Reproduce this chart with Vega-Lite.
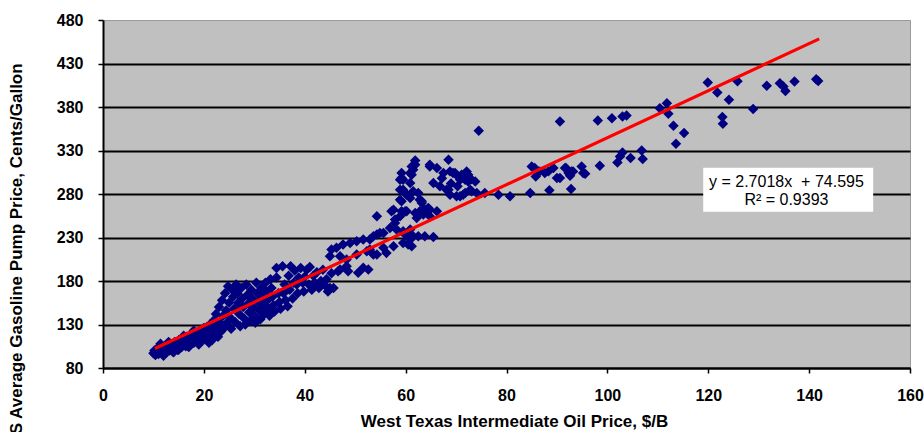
{
  "$schema": "https://vega.github.io/schema/vega-lite/v6.json",
  "width": 807,
  "height": 348,
  "autosize": {"type": "none"},
  "padding": {"left": 103, "top": 20, "right": 14, "bottom": 64},
  "background": "white",
  "config": {
    "font": "Liberation Sans",
    "view": {"fill": "#C0C0C0", "stroke": "#9a9a9a", "strokeWidth": 1},
    "axis": {
      "domainColor": "black",
      "domainWidth": 2,
      "tickColor": "black",
      "tickWidth": 1.5,
      "tickSize": 5,
      "labelFont": "Liberation Sans",
      "labelFontSize": 16,
      "labelFontWeight": "bold",
      "labelColor": "black",
      "labelOverlap": false,
      "labelFlush": false,
      "titleFont": "Liberation Sans",
      "titleFontSize": 17,
      "titleFontWeight": "bold",
      "titleColor": "black"
    },
    "axisX": {"grid": false, "labelPadding": 14, "titleX": 411, "titleY": 58, "titleBaseline": "alphabetic", "titleAlign": "center"},
    "axisY": {
      "grid": true,
      "gridColor": "black",
      "gridWidth": 1.8,
      "gridOpacity": {"condition": {"test": "datum.value >= 480", "value": 0}, "value": 1},
      "labelPadding": 15,
      "titleX": -82,
      "titleY": 234.5,
      "titleBaseline": "alphabetic",
      "titleAlign": "center"
    }
  },
  "datasets": {
    "prices": [
      {"wti": 10.0, "pump": 97}, {"wti": 10.2, "pump": 100}, {"wti": 10.4, "pump": 95}, {"wti": 10.6, "pump": 98},
      {"wti": 10.8, "pump": 102}, {"wti": 11.0, "pump": 96}, {"wti": 11.2, "pump": 99}, {"wti": 11.4, "pump": 104},
      {"wti": 11.4, "pump": 108}, {"wti": 11.6, "pump": 101}, {"wti": 11.8, "pump": 97}, {"wti": 12.0, "pump": 103},
      {"wti": 12.2, "pump": 100}, {"wti": 12.4, "pump": 106}, {"wti": 12.6, "pump": 98}, {"wti": 12.8, "pump": 102},
      {"wti": 13.0, "pump": 105}, {"wti": 13.2, "pump": 100}, {"wti": 13.4, "pump": 108}, {"wti": 13.6, "pump": 103},
      {"wti": 13.8, "pump": 99}, {"wti": 14.0, "pump": 106}, {"wti": 14.2, "pump": 110}, {"wti": 14.4, "pump": 103},
      {"wti": 14.6, "pump": 108}, {"wti": 14.8, "pump": 101}, {"wti": 15.0, "pump": 112}, {"wti": 15.2, "pump": 106},
      {"wti": 15.4, "pump": 109}, {"wti": 15.6, "pump": 104}, {"wti": 15.8, "pump": 114}, {"wti": 16.0, "pump": 108},
      {"wti": 16.2, "pump": 111}, {"wti": 16.4, "pump": 105}, {"wti": 16.6, "pump": 116}, {"wti": 16.8, "pump": 110},
      {"wti": 17.0, "pump": 113}, {"wti": 17.2, "pump": 107}, {"wti": 17.4, "pump": 118}, {"wti": 17.6, "pump": 112},
      {"wti": 17.8, "pump": 115}, {"wti": 18.0, "pump": 109}, {"wti": 18.2, "pump": 120}, {"wti": 18.4, "pump": 113},
      {"wti": 18.6, "pump": 117}, {"wti": 18.8, "pump": 110}, {"wti": 19.0, "pump": 122}, {"wti": 19.2, "pump": 115},
      {"wti": 19.4, "pump": 119}, {"wti": 19.6, "pump": 112}, {"wti": 19.8, "pump": 124}, {"wti": 20.0, "pump": 117},
      {"wti": 20.2, "pump": 113}, {"wti": 20.4, "pump": 121}, {"wti": 20.6, "pump": 127}, {"wti": 20.8, "pump": 115},
      {"wti": 21.0, "pump": 123}, {"wti": 21.2, "pump": 130}, {"wti": 21.4, "pump": 118}, {"wti": 21.6, "pump": 112},
      {"wti": 21.8, "pump": 126}, {"wti": 22.0, "pump": 135}, {"wti": 22.2, "pump": 120}, {"wti": 22.4, "pump": 142},
      {"wti": 22.6, "pump": 128}, {"wti": 22.8, "pump": 116}, {"wti": 23.0, "pump": 150}, {"wti": 23.2, "pump": 132},
      {"wti": 23.4, "pump": 122}, {"wti": 23.6, "pump": 158}, {"wti": 23.8, "pump": 140}, {"wti": 24.0, "pump": 126},
      {"wti": 24.2, "pump": 166}, {"wti": 24.4, "pump": 146}, {"wti": 24.6, "pump": 132}, {"wti": 24.8, "pump": 174},
      {"wti": 25.0, "pump": 155}, {"wti": 25.2, "pump": 138}, {"wti": 25.4, "pump": 125}, {"wti": 25.6, "pump": 170},
      {"wti": 25.8, "pump": 162}, {"wti": 26.0, "pump": 148}, {"wti": 26.2, "pump": 133}, {"wti": 26.4, "pump": 176},
      {"wti": 26.6, "pump": 166}, {"wti": 26.8, "pump": 155}, {"wti": 27.0, "pump": 142}, {"wti": 27.2, "pump": 128},
      {"wti": 27.4, "pump": 172}, {"wti": 27.6, "pump": 160}, {"wti": 27.8, "pump": 150}, {"wti": 28.0, "pump": 137},
      {"wti": 28.2, "pump": 130}, {"wti": 28.4, "pump": 176}, {"wti": 28.6, "pump": 164}, {"wti": 28.8, "pump": 154},
      {"wti": 29.0, "pump": 144}, {"wti": 29.2, "pump": 134}, {"wti": 29.4, "pump": 170}, {"wti": 29.6, "pump": 160},
      {"wti": 29.8, "pump": 150}, {"wti": 30.0, "pump": 140}, {"wti": 30.2, "pump": 132}, {"wti": 30.4, "pump": 178},
      {"wti": 30.6, "pump": 166}, {"wti": 30.8, "pump": 156}, {"wti": 31.0, "pump": 146}, {"wti": 31.2, "pump": 136},
      {"wti": 31.4, "pump": 172}, {"wti": 31.6, "pump": 162}, {"wti": 31.8, "pump": 152}, {"wti": 32.0, "pump": 142},
      {"wti": 32.2, "pump": 178}, {"wti": 32.4, "pump": 168}, {"wti": 32.6, "pump": 158}, {"wti": 32.8, "pump": 148},
      {"wti": 33.0, "pump": 140}, {"wti": 33.2, "pump": 182}, {"wti": 33.4, "pump": 172}, {"wti": 33.6, "pump": 162},
      {"wti": 33.8, "pump": 152}, {"wti": 34.0, "pump": 145}, {"wti": 34.4, "pump": 195}, {"wti": 34.4, "pump": 184},
      {"wti": 34.8, "pump": 166}, {"wti": 35.0, "pump": 156}, {"wti": 35.2, "pump": 148}, {"wti": 35.6, "pump": 197},
      {"wti": 35.8, "pump": 166}, {"wti": 36.0, "pump": 176}, {"wti": 36.2, "pump": 158}, {"wti": 36.6, "pump": 151},
      {"wti": 36.8, "pump": 186}, {"wti": 37.0, "pump": 170}, {"wti": 37.2, "pump": 197}, {"wti": 37.6, "pump": 160},
      {"wti": 37.8, "pump": 178}, {"wti": 38.0, "pump": 192}, {"wti": 38.4, "pump": 176}, {"wti": 38.6, "pump": 166},
      {"wti": 38.8, "pump": 184}, {"wti": 39.2, "pump": 195}, {"wti": 39.6, "pump": 178}, {"wti": 39.8, "pump": 168},
      {"wti": 40.0, "pump": 185}, {"wti": 40.4, "pump": 193}, {"wti": 40.8, "pump": 176}, {"wti": 41.0, "pump": 196},
      {"wti": 41.4, "pump": 170}, {"wti": 41.7, "pump": 186}, {"wti": 42.0, "pump": 178}, {"wti": 42.4, "pump": 190},
      {"wti": 42.8, "pump": 172}, {"wti": 43.2, "pump": 180}, {"wti": 43.6, "pump": 193}, {"wti": 44.0, "pump": 175},
      {"wti": 44.3, "pump": 182}, {"wti": 44.6, "pump": 168}, {"wti": 45.0, "pump": 172}, {"wti": 45.3, "pump": 189},
      {"wti": 45.7, "pump": 172},
      {"wti": 11.0, "pump": 104}, {"wti": 12.0, "pump": 94}, {"wti": 13.0, "pump": 110}, {"wti": 14.0, "pump": 98},
      {"wti": 15.0, "pump": 101}, {"wti": 16.0, "pump": 117}, {"wti": 17.0, "pump": 104}, {"wti": 18.0, "pump": 123},
      {"wti": 19.0, "pump": 107}, {"wti": 20.0, "pump": 126}, {"wti": 21.0, "pump": 109},
      {"wti": 45.0, "pump": 208.5}, {"wti": 45.3, "pump": 216.1}, {"wti": 46.3, "pump": 218.1}, {"wti": 46.6, "pump": 191.3},
      {"wti": 47.0, "pump": 208.5}, {"wti": 47.0, "pump": 193.2}, {"wti": 47.6, "pump": 221.9}, {"wti": 48.3, "pump": 204.7},
      {"wti": 48.3, "pump": 197}, {"wti": 48.6, "pump": 191.3}, {"wti": 49.0, "pump": 223.8}, {"wti": 50.3, "pump": 225.7},
      {"wti": 50.3, "pump": 210.4}, {"wti": 50.6, "pump": 189.4}, {"wti": 51.6, "pump": 227.6}, {"wti": 51.6, "pump": 195.1},
      {"wti": 52.3, "pump": 214.2}, {"wti": 52.6, "pump": 193.2}, {"wti": 52.9, "pump": 227.6}, {"wti": 52.9, "pump": 216.1},
      {"wti": 53.6, "pump": 210.4}, {"wti": 53.6, "pump": 231.4}, {"wti": 54.3, "pump": 233.4}, {"wti": 54.3, "pump": 210.4},
      {"wti": 54.3, "pump": 254.4}, {"wti": 54.9, "pump": 235.3}, {"wti": 55.6, "pump": 235.3}, {"wti": 55.6, "pump": 218.1},
      {"wti": 56.2, "pump": 212.3}, {"wti": 56.9, "pump": 241}, {"wti": 57.2, "pump": 260.1}, {"wti": 57.6, "pump": 219.9},
      {"wti": 57.6, "pump": 262}, {"wti": 57.9, "pump": 246.8}, {"wti": 57.9, "pump": 250.6}, {"wti": 58.2, "pump": 239.1},
      {"wti": 58.9, "pump": 254.4}, {"wti": 58.9, "pump": 296.5}, {"wti": 58.9, "pump": 285}, {"wti": 58.9, "pump": 273.5},
      {"wti": 59.2, "pump": 304.1}, {"wti": 59.2, "pump": 298.4}, {"wti": 59.2, "pump": 271.6}, {"wti": 59.2, "pump": 260.1},
      {"wti": 59.5, "pump": 296.5}, {"wti": 59.5, "pump": 285}, {"wti": 59.5, "pump": 237.1}, {"wti": 59.5, "pump": 223.8},
      {"wti": 59.9, "pump": 281.2}, {"wti": 59.9, "pump": 260.1}, {"wti": 59.9, "pump": 233.4}, {"wti": 60.2, "pump": 279.2},
      {"wti": 60.2, "pump": 260.1}, {"wti": 60.5, "pump": 221.9}, {"wti": 60.9, "pump": 304.1}, {"wti": 60.9, "pump": 292.7},
      {"wti": 60.9, "pump": 275.5}, {"wti": 60.9, "pump": 239.1}, {"wti": 60.9, "pump": 227.6}, {"wti": 61.2, "pump": 311.7},
      {"wti": 61.2, "pump": 302.2}, {"wti": 61.2, "pump": 219.9}, {"wti": 61.5, "pump": 307.9}, {"wti": 61.5, "pump": 283.1},
      {"wti": 61.5, "pump": 231.4}, {"wti": 61.9, "pump": 318.6}, {"wti": 61.9, "pump": 313.7}, {"wti": 61.9, "pump": 258.2},
      {"wti": 62.2, "pump": 252.5}, {"wti": 62.5, "pump": 281.2}, {"wti": 62.5, "pump": 256.3}, {"wti": 62.5, "pump": 231.4},
      {"wti": 62.8, "pump": 273.5}, {"wti": 62.8, "pump": 260.1}, {"wti": 63.2, "pump": 271.6}, {"wti": 63.2, "pump": 269.7},
      {"wti": 63.5, "pump": 256.3}, {"wti": 63.8, "pump": 262}, {"wti": 63.8, "pump": 231.4}, {"wti": 64.2, "pump": 262},
      {"wti": 64.5, "pump": 264}, {"wti": 64.8, "pump": 262}, {"wti": 64.8, "pump": 254.4}, {"wti": 65.5, "pump": 230.7},
      {"wti": 66.2, "pump": 260.1},
      {"wti": 64.8, "pump": 311.7}, {"wti": 64.8, "pump": 313.7}, {"wti": 66.2, "pump": 309.9}, {"wti": 67.5, "pump": 304.1},
      {"wti": 68.5, "pump": 319.4}, {"wti": 68.8, "pump": 306}, {"wti": 69.4, "pump": 304.1}, {"wti": 69.8, "pump": 304.1},
      {"wti": 70.4, "pump": 300.2}, {"wti": 70.8, "pump": 296.5}, {"wti": 71.1, "pump": 298.4}, {"wti": 71.1, "pump": 302.2},
      {"wti": 71.8, "pump": 296.5}, {"wti": 72.1, "pump": 306}, {"wti": 72.4, "pump": 302.2}, {"wti": 72.4, "pump": 294.5},
      {"wti": 73.8, "pump": 294.5}, {"wti": 65.5, "pump": 292.7}, {"wti": 66.8, "pump": 288.8}, {"wti": 68.1, "pump": 285},
      {"wti": 68.5, "pump": 285}, {"wti": 68.8, "pump": 279.2}, {"wti": 70.1, "pump": 277.3}, {"wti": 70.8, "pump": 277.3},
      {"wti": 71.4, "pump": 279.2}, {"wti": 71.8, "pump": 281.2}, {"wti": 72.8, "pump": 285}, {"wti": 73.1, "pump": 283.1},
      {"wti": 74.1, "pump": 281.2}, {"wti": 67.2, "pump": 298}, {"wti": 69.0, "pump": 292}, {"wti": 70.3, "pump": 289},
      {"wti": 73.0, "pump": 297}, {"wti": 74.5, "pump": 352.7},
      {"wti": 75.7, "pump": 281.2}, {"wti": 78.4, "pump": 279.2}, {"wti": 80.7, "pump": 277.3}, {"wti": 84.7, "pump": 281.2},
      {"wti": 85.0, "pump": 311.7}, {"wti": 85.6, "pump": 309.9}, {"wti": 85.8, "pump": 300.2}, {"wti": 86.6, "pump": 306},
      {"wti": 87.6, "pump": 304.1}, {"wti": 88.3, "pump": 306}, {"wti": 88.5, "pump": 284.2}, {"wti": 89.3, "pump": 309.9},
      {"wti": 90.0, "pump": 298.4}, {"wti": 90.6, "pump": 298.4}, {"wti": 90.6, "pump": 363.3}, {"wti": 91.6, "pump": 309.9},
      {"wti": 91.8, "pump": 309.9}, {"wti": 92.3, "pump": 304.1}, {"wti": 92.6, "pump": 301}, {"wti": 92.8, "pump": 285.8},
      {"wti": 92.9, "pump": 306}, {"wti": 93.2, "pump": 306}, {"wti": 94.9, "pump": 311.7}, {"wti": 95.2, "pump": 304.1},
      {"wti": 95.6, "pump": 303.3},
      {"wti": 98.1, "pump": 364.5}, {"wti": 98.5, "pump": 312.5}, {"wti": 100.9, "pump": 367.2}, {"wti": 102.0, "pump": 316.3},
      {"wti": 102.5, "pump": 323.2}, {"wti": 103.0, "pump": 369}, {"wti": 103.0, "pump": 327.8}, {"wti": 103.8, "pump": 370.2},
      {"wti": 104.6, "pump": 321.3}, {"wti": 106.8, "pump": 330}, {"wti": 107.0, "pump": 320.2}, {"wti": 110.4, "pump": 378.7},
      {"wti": 111.8, "pump": 384.4}, {"wti": 112.1, "pump": 372.2}, {"wti": 113.1, "pump": 358.4}, {"wti": 113.6, "pump": 337.7},
      {"wti": 115.2, "pump": 350}, {"wti": 119.9, "pump": 408.1}, {"wti": 121.8, "pump": 396.6}, {"wti": 122.8, "pump": 368.4},
      {"wti": 122.9, "pump": 360.7}, {"wti": 124.1, "pump": 388.2}, {"wti": 125.8, "pump": 409.7}, {"wti": 128.9, "pump": 377.6},
      {"wti": 131.6, "pump": 404.3}, {"wti": 134.2, "pump": 407.4}, {"wti": 134.9, "pump": 403.5}, {"wti": 135.3, "pump": 398.5},
      {"wti": 137.1, "pump": 409.2}, {"wti": 141.4, "pump": 412}, {"wti": 141.8, "pump": 410}
    ],
    "trend": [
      {"wti": 10.3, "pump": 102.42},
      {"wti": 142, "pump": 458.25}
    ],
    "box": [
      {"wti": 119.0, "wti_end": 152.7, "pump": 310.2, "pump_end": 259.7}
    ],
    "fit_text": [
      {"wti": 135.5, "pump": 294.1, "label": "y = 2.7018x\u00a0 + 74.595"},
      {"wti": 135.5, "pump": 272.8, "label": "R² = 0.9393"}
    ]
  },
  "layer": [
    {
      "data": {"name": "prices"},
      "mark": {"type": "point", "shape": "diamond", "filled": true, "color": "#000080", "opacity": 1, "size": 110},
      "encoding": {
        "x": {
          "field": "wti", "type": "quantitative",
          "title": "West Texas Intermediate Oil Price, $/B",
          "scale": {"domain": [0, 160], "nice": false, "zero": false},
          "axis": {"values": [0, 20, 40, 60, 80, 100, 120, 140, 160]}
        },
        "y": {
          "field": "pump", "type": "quantitative",
          "title": "US Average Gasoline Pump Price, Cents/Gallon",
          "scale": {"domain": [80, 480], "nice": false, "zero": false},
          "axis": {"values": [80, 130, 180, 230, 280, 330, 380, 430, 480]}
        }
      }
    },
    {
      "data": {"name": "trend"},
      "mark": {"type": "line", "color": "#FF0000", "strokeWidth": 3.2},
      "encoding": {
        "x": {"field": "wti", "type": "quantitative", "title": "West Texas Intermediate Oil Price, $/B"},
        "y": {"field": "pump", "type": "quantitative", "title": "US Average Gasoline Pump Price, Cents/Gallon"}
      }
    },
    {
      "data": {"name": "box"},
      "mark": {"type": "rect", "fill": "white"},
      "encoding": {
        "x": {"field": "wti", "type": "quantitative", "title": "West Texas Intermediate Oil Price, $/B"},
        "x2": {"field": "wti_end"},
        "y": {"field": "pump", "type": "quantitative", "title": "US Average Gasoline Pump Price, Cents/Gallon"},
        "y2": {"field": "pump_end"}
      }
    },
    {
      "data": {"name": "fit_text"},
      "mark": {"type": "text", "font": "Liberation Sans", "fontSize": 16, "color": "black", "align": "center", "baseline": "middle"},
      "encoding": {
        "x": {"field": "wti", "type": "quantitative", "title": "West Texas Intermediate Oil Price, $/B"},
        "y": {"field": "pump", "type": "quantitative", "title": "US Average Gasoline Pump Price, Cents/Gallon"},
        "text": {"field": "label"}
      }
    }
  ]
}
